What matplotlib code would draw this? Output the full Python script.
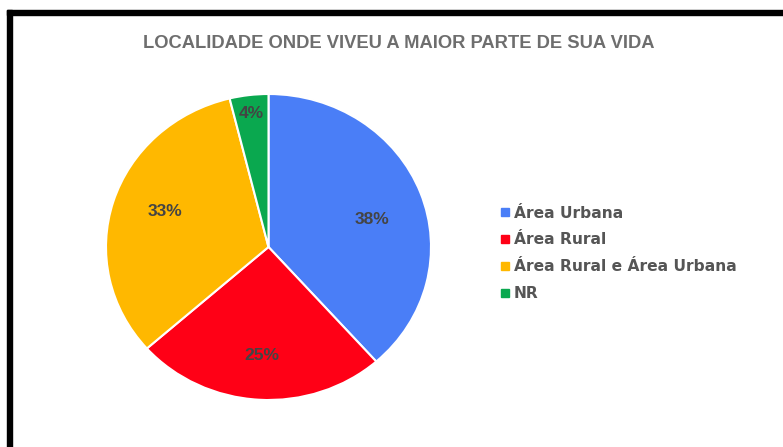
import numpy as np
import matplotlib.pyplot as plt
from matplotlib.patches import Rectangle
from matplotlib.lines import Line2D

# ── Data ────────────────────────────────────────────────
categories = ['Área Urbana', 'Área Rural', 'Área Rural e Área Urbana', 'NR']
counts = [20, 13, 17, 2]
colors = ['#4a7ef7', '#ff0016', '#ffb800', '#0aa84f']
title = 'LOCALIDADE ONDE VIVEU A MAIOR PARTE DE SUA VIDA'

# label placement: distance from centre and small angle nudge (degrees)
label_radius = [0.665, 0.71, 0.68, 0.88]
label_nudge = [-5, 0, -2.5, 0]

W, H = 783, 447
fig = plt.figure(figsize=(W / 100, H / 100), dpi=100)
fig.patch.set_facecolor('white')

# black frame (only top and left edges are visible)
fig.patches.append(Rectangle((7 / W, 0), 5 / W, 1 - 10 / H,
                             transform=fig.transFigure, color='black', zorder=5))
fig.patches.append(Rectangle((7 / W, 1 - 15 / H), 1, 5 / H,
                             transform=fig.transFigure, color='black', zorder=5))

# ── Pie ────────────────────────────────────────────────
ax = fig.add_axes([106 / W, 47 / H, 325 / W, 306 / H])
wedges, texts, autotexts = ax.pie(
    counts, colors=colors, startangle=90, counterclock=False,
    autopct=lambda p: f'{p:.0f}%', pctdistance=0.7,
    wedgeprops=dict(edgecolor='white', linewidth=1.5),
    textprops=dict(color='#444444', fontsize=12.5, fontweight='bold',
                   family='Liberation Sans'))
ax.set_aspect('auto')
ax.set_xlim(-1, 1)
ax.set_ylim(-1, 1)

# move each % label along (roughly) its wedge bisector
for w, t, r, d in zip(wedges, autotexts, label_radius, label_nudge):
    ang = np.deg2rad((w.theta1 + w.theta2) / 2 + d)
    t.set_position((r * np.cos(ang), r * np.sin(ang)))

fig.text(399 / W, 1 - 44 / H, title, ha='center', va='center',
         fontsize=13.2, fontweight='bold', color='#6e6e6e',
         family='Liberation Sans')

# ── Legend ─────────────────────────────────────────────
handles = [Line2D([], [], marker='s', linestyle='none', markersize=6,
                  markerfacecolor=c, markeredgecolor=c) for c in colors]
leg = fig.legend(handles, categories, loc='upper left',
                 bbox_to_anchor=(486 / W, 1 - 191.5 / H), frameon=False,
                 handlelength=0.6, handletextpad=0.3, labelspacing=0.76,
                 prop=dict(family='DejaVu Sans', weight='bold', size=11.2))
for t in leg.get_texts():
    t.set_color('#555555')

plt.savefig('out.png', dpi=100)
